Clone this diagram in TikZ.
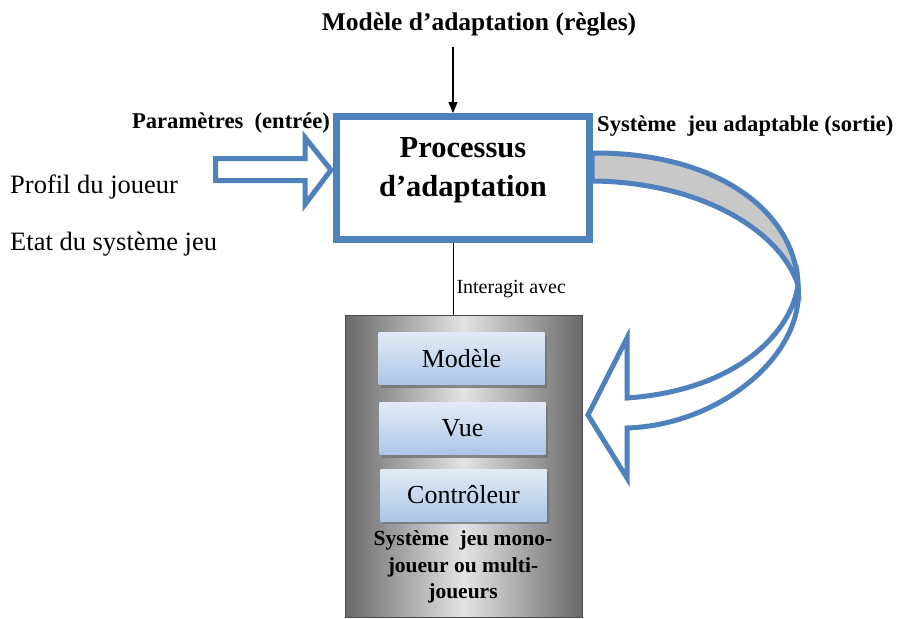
\documentclass[tikz,border=0pt]{standalone}
\usepackage{fontspec}
\setmainfont{Liberation Serif}
\usepackage{tikz}
\usetikzlibrary{arrows.meta,positioning,calc,shadows}
\usepackage{xcolor}
\definecolor{AdaptBlue}{RGB}{79,129,189}
\definecolor{BandGray}{RGB}{200,200,200}
\definecolor{MvcTop}{RGB}{226,235,246}
\definecolor{MvcBot}{RGB}{172,198,230}
\definecolor{SysDark}{RGB}{105,105,105}
\definecolor{SysLight}{RGB}{228,228,228}

\begin{document}
\begin{tikzpicture}[x=1pt,y=-1pt,
  proc/.style={draw=AdaptBlue,line width=7pt,fill=white,
               minimum width=253pt,minimum height=123pt,inner sep=0pt},
  proctext/.style={align=center,font=\fontsize{30.5}{39}\selectfont\bfseries},
  hollow/.style={draw=AdaptBlue,line width=5pt,line join=miter},
  sysbox/.style={draw=black!70,line width=1pt,minimum width=237pt,minimum height=302pt,
                 left color=SysDark,right color=SysDark,middle color=SysLight},
  mvc/.style={minimum width=166pt,minimum height=52pt,inner sep=0pt,
              top color=MvcTop,bottom color=MvcBot,
              drop shadow={shadow xshift=2pt,shadow yshift=-3pt,fill=black!55,opacity=.8},
              font=\fontsize{26}{30}\selectfont},
  bold/.style={font=\fontsize{22.6}{26}\selectfont\bfseries},
  plain/.style={font=\fontsize{26.5}{30}\selectfont},
]
\useasboundingbox (0,0) rectangle (898,619);

% curved output arrow
\draw[hollow,fill=BandGray] (592,153) .. controls (715,152) and (795,210) .. (798,285)
  .. controls (780,230) and (700,182) .. (592,181) -- cycle;
\draw[hollow,fill=white] (798,285) .. controls (805,355) and (720,425) .. (627,428)
  -- (627,478) -- (588,415) -- (627,338) -- (627,398)
  .. controls (740,390) and (792,330) .. (798,285) -- cycle;

% input arrow
\draw[hollow,fill=white] (215.5,158.5) -- (305,158.5) -- (305,137.5) -- (331,170)
  -- (305,204.5) -- (305,180.5) -- (215.5,180.5) -- cycle;

\node[proc] (proc) at (463,178) {};
\node[proctext] (proctxt) at (463,170) {Processus\\d’adaptation};

\node[anchor=base,font=\fontsize{25.5}{28}\selectfont\bfseries] (rules) at (479,30) {Modèle d’adaptation (règles)};
\node[bold,anchor=base] (param) at (231,128) {Paramètres\ \ (entrée)};
\node[bold,anchor=base west,inner sep=0pt] (out) at (597,131) {Système\ \ jeu adaptable (sortie)};
\node[plain,anchor=base west,inner sep=0pt] (profil) at (10,193) {Profil du joueur};
\node[plain,anchor=base west,inner sep=0pt] (etat) at (10,250) {Etat du système jeu};

\node[sysbox] (sys) at (463.5,466) {};
\node[mvc] (modele) at (461.5,358.5) {Modèle};
\node[mvc] (vue) at (462.5,428.5) {Vue};
\node[mvc] (ctrl) at (463.5,495) {Contrôleur};
\node[align=center,font=\fontsize{21.5}{26.5}\selectfont\bfseries] (systxt) at (463,567)
  {Système\ \ jeu mono-\\joueur ou multi-\\joueurs};

\draw[line width=1.2pt,-{Triangle[length=11pt,width=9pt]}]
  ([xshift=-10pt]proc.north |- rules.south) ++(0,8) -- ([xshift=-10pt]proc.north);
\draw[line width=1pt] ([xshift=-10pt]proc.south) -- ([xshift=-10pt]proc.south |- sys.north)
  node[pos=.7,anchor=base west,font=\fontsize{20}{22}\selectfont,inner sep=3pt] (inter) {Interagit avec};
\end{tikzpicture}
\end{document}
